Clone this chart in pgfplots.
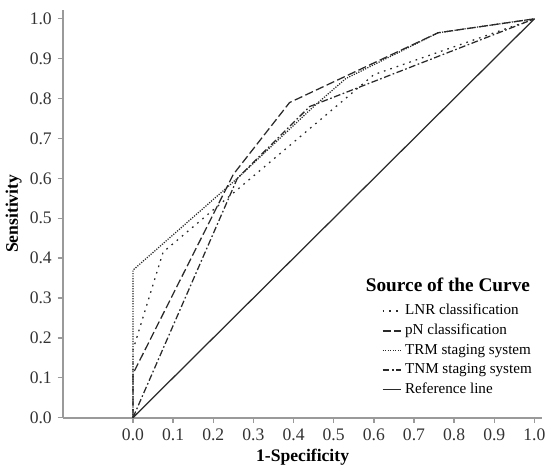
\documentclass[border=0pt]{standalone}
\usepackage{pgfplots}
\pgfplotsset{compat=1.18}
\usepackage{fontspec}
\setmainfont{Liberation Serif}

\definecolor{axgray}{HTML}{9A9A9A}
\definecolor{curve}{HTML}{2A2A2A}

\begin{document}
\begin{tikzpicture}
\begin{axis}[
    scale only axis,
    width=286pt,
    height=243pt,
    xmin=-0.175, xmax=1.02,
    ymin=0, ymax=1.022,
    axis x line=bottom,
    axis y line=left,
    axis line style={-, axgray, line width=1.3pt},
    tick style={axgray, line width=0.8pt},
    tick align=outside,
    major tick length=3pt,
    xtick={0,0.1,...,1.0},
    ytick={0,0.1,...,1.0},
    /pgf/number format/.cd, fixed, fixed zerofill, precision=1, assume math mode=true,
    /pgfplots/.cd,
    tick label style={font=\fontsize{10.5}{12}\selectfont, text=black!80},
    xlabel={\textbf{1-Specificity}},
    ylabel={\textbf{Sensitivity}},
    label style={font=\fontsize{10.5}{12}\selectfont},
    xlabel style={yshift=2pt},
    ylabel style={yshift=-2pt},
    legend cell align=left,
    legend style={draw=none, fill=none, at={(0.665,0.287)}, anchor=north west,
        font=\fontsize{9}{11}\selectfont, row sep=0.1pt, inner sep=0pt},
    legend image code/.code={\draw[#1] (0pt,0pt) -- (11pt,0pt);},
    every axis plot/.append style={curve, line width=0.75pt},
    clip=false,
]
\addplot[dash pattern=on 1pt off 3pt] coordinates {
    (0,0) (0,0.17) (0.075,0.415) (0.6,0.86) (1,1)
};
\addlegendentry{LNR classification}
\addplot[dash pattern=on 5pt off 2pt] coordinates {
    (0,0) (0,0.11) (0.25,0.61) (0.39,0.79) (0.76,0.965) (1,1)
};
\addlegendentry{pN classification}
\addplot[dash pattern=on 0.7pt off 0.8pt] coordinates {
    (0,0) (0,0.37) (0.26,0.60) (0.45,0.78) (0.53,0.85) (0.76,0.965) (1,1)
};
\addlegendentry{TRM staging system}
\addplot[dash pattern=on 4pt off 1.5pt on 1pt off 1.5pt] coordinates {
    (0,0) (0.26,0.60) (0.44,0.78) (1,1)
};
\addlegendentry{TNM staging system}
\addplot[solid] coordinates {
    (0,0) (1,1)
};
\addlegendentry{Reference line}
\node[font=\bfseries\fontsize{11.5}{13}\selectfont, anchor=center]
    at (rel axis cs:0.803,0.327) {Source of the Curve};
\path (rel axis cs:0,1) ++(0,6pt) coordinate (topmargin);
\end{axis}
\end{tikzpicture}
\end{document}
